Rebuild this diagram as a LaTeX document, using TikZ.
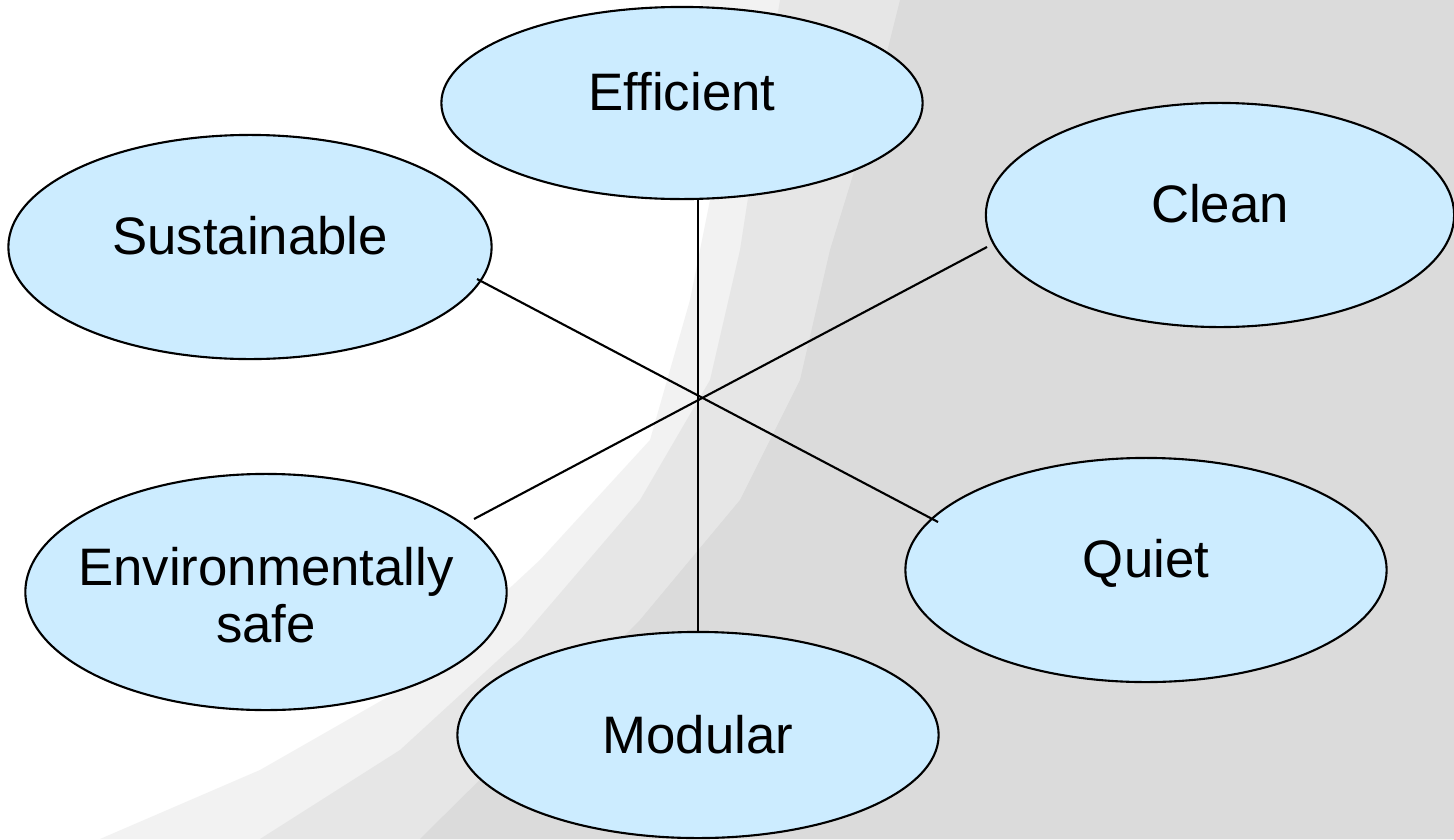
\documentclass[tikz,border=0pt]{standalone}
\usepackage{fontspec}
\setmainfont{Liberation Sans}
\usetikzlibrary{shapes.geometric,calc}
\definecolor{bubble}{HTML}{CCECFF}
\definecolor{fogA}{HTML}{F2F2F2}
\definecolor{fogB}{HTML}{E6E6E6}
\definecolor{fogC}{HTML}{DBDBDB}
\tikzset{
  bubblenode/.style={ellipse, draw=black, line width=0.6pt, fill=bubble, inner sep=0pt,
    font=\fontsize{15pt}{16.4pt}\selectfont},
  oneline/.style={text height=0.7em, text depth=0.3em},
  conn/.style={draw=black, line width=0.6pt}
}
\begin{document}
\begin{tikzpicture}[x=0.01cm,y=-0.01cm]
% background (foggy photo approximation)
\fill[white] (0,0) rectangle (1454,839);
\useasboundingbox (0,0) rectangle (1454,839);
\fill[fogA] (700,0) -- (1454,0) -- (1454,839) -- (100,839) -- (260,770) -- (400,690) -- (540,560) -- (650,440) -- (690,300) -- (720,150) -- cycle;
\fill[fogB] (780,0) -- (1454,0) -- (1454,839) -- (260,839) -- (400,750) -- (520,640) -- (640,500) -- (710,380) -- (740,250) -- (760,120) -- cycle;
\fill[fogC] (900,0) -- (1454,0) -- (1454,839) -- (420,839) -- (520,740) -- (640,620) -- (740,500) -- (800,380) -- (830,250) -- (870,120) -- cycle;
% nodes
\node[bubblenode, oneline, minimum width=4.81cm, minimum height=1.92cm] (eff) at (682,103) {Efficient};
\node[bubblenode, oneline, minimum width=4.83cm, minimum height=2.24cm] (sus) at (250,247) {Sustainable};
\node[bubblenode, oneline, minimum width=4.68cm, minimum height=2.24cm] (cln) at (1220,215) {Clean};
\node[bubblenode, minimum width=4.81cm, minimum height=2.36cm] (env) at (266,592)
  {\raisebox{-6.6pt}[0pt][0pt]{\makebox[0pt]{\renewcommand\arraystretch{1}\begin{tabular}{@{}c@{}}Environmentally\\safe\end{tabular}}}};
\node[bubblenode, oneline, minimum width=4.81cm, minimum height=2.24cm] (qui) at (1146,570) {Quiet};
\node[bubblenode, minimum width=4.81cm, minimum height=2.06cm] (mod) at (698,735) {Modular};
% connector end points
\coordinate (s1) at ($(sus.center)+(227,32)$);
\coordinate (q1) at ($(qui.center)+(-208,-48)$);
\coordinate (c1) at ($(cln.center)+(-233,32)$);
\coordinate (e1) at ($(env.center)+(208,-73)$);
% connectors
\draw[conn] (mod.north |- eff.south) -- (mod.north);
\draw[conn] (s1) -- (q1);
\draw[conn] (c1) -- (e1);
\end{tikzpicture}
\end{document}
